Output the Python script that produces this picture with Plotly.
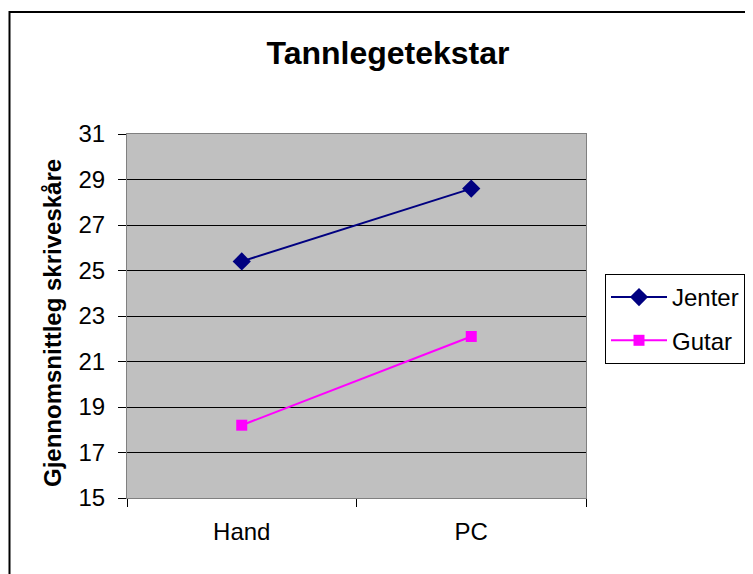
import plotly.graph_objects as go

categories = ["Hand", "PC"]
jenter = [25.4, 28.6]
gutar = [18.2, 22.1]
y_ticks = [15, 17, 19, 21, 23, 25, 27, 29, 31]

# page body has an 8px default margin; work in screen pixels and subtract it
OFF = 8
W, H = 753 - OFF, 574 - OFF
L, R, T, B = 127 - OFF, 586 - OFF, 134 - OFF, 498 - OFF
pw, ph = R - L, B - T

def px_x(x):
    return (x - OFF - L) / pw

def px_y(y):
    return (B - (y - OFF)) / ph

FONT = "Liberation Sans, Arial, sans-serif"

fig = go.Figure()
fig.add_trace(go.Scatter(
    x=categories, y=jenter, name="Jenter", mode="lines+markers", legendgroup="a",
    line=dict(color="#000080", width=2),
    marker=dict(symbol="diamond", size=14, color="#000080"),
))
fig.add_trace(go.Scatter(
    x=categories, y=gutar, name="Gutar", mode="lines+markers", legendgroup="b",
    line=dict(color="#FF00FF", width=2),
    marker=dict(symbol="square", size=11, color="#FF00FF"),
))

fig.update_layout(
    width=W, height=H,
    margin=dict(l=L, r=W - R, t=T, b=H - B, pad=0, autoexpand=False),
    paper_bgcolor="white",
    plot_bgcolor="#C0C0C0",
    font=dict(family=FONT, size=24, color="black"),
    title=dict(text="<b>Tannlegetekstar</b>", x=(388 - OFF) / W, xref="container", xanchor="center",
               y=1 - (53 - OFF) / H, yref="container", yanchor="middle",
               font=dict(family=FONT, size=32, color="black")),
    showlegend=True,
    legend=dict(x=px_x(605), y=px_y(274), xanchor="left", yanchor="top",
                bordercolor="black", borderwidth=1, bgcolor="white",
                font=dict(family=FONT, size=24, color="black"),
                itemwidth=56, tracegroupgap=9, traceorder="grouped"),
    xaxis=dict(type="category", range=[-0.5, 1.5], showgrid=False,
               showline=True, linecolor="#808080", linewidth=1, mirror=True,
               ticks="outside", tickson="boundaries", ticklen=8, tickcolor="black",
               tickfont=dict(family=FONT, size=24, color="black"),
               ticklabelstandoff=12, zeroline=False),
    yaxis=dict(range=[15, 31], tickvals=y_ticks, showgrid=True, gridcolor="black", gridwidth=1,
               showline=True, linecolor="#808080", linewidth=1, mirror=True,
               ticks="outside", ticklen=8, tickcolor="black",
               tickfont=dict(family=FONT, size=24, color="black"),
               ticklabelstandoff=8, zeroline=False),
    annotations=[dict(text="<b>Gjennomsnittleg skriveskåre</b>", textangle=-90,
                      x=px_x(52), y=px_y(323), xref="paper", yref="paper",
                      xanchor="center", yanchor="middle", showarrow=False,
                      font=dict(family=FONT, size=24, color="black"))],
    shapes=[dict(type="rect", xref="paper", yref="paper",
                 x0=px_x(9.5), x1=px_x(770), y0=px_y(600), y1=px_y(12),
                 line=dict(color="black", width=2), fillcolor="rgba(0,0,0,0)", layer="below")],
)

fig.write_html("out.html")
